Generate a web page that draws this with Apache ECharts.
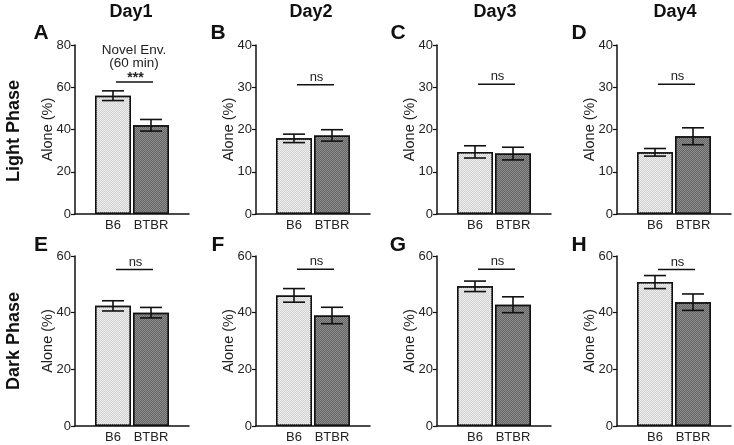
<!DOCTYPE html>
<html>
<head>
<meta charset="utf-8">
<script src="https://cdn.jsdelivr.net/npm/echarts@6/dist/echarts.min.js"></script>
<style>html,body{margin:0;padding:0;background:#fff;}#c{width:734px;height:445px;}</style>
</head>
<body>
<div id="c"></div>
<script>
// ---- data ----
const categories = ['B6', 'BTBR'];
const days = ['Day1', 'Day2', 'Day3', 'Day4'];
const rowTitles = ['Light Phase', 'Dark Phase'];
const panelLetters = ['A', 'B', 'C', 'D', 'E', 'F', 'G', 'H'];
const lightB6 = [56.0, 17.9, 14.7, 14.6];
const lightB6Sem = [2.3, 1.0, 1.45, 0.9];
const lightBTBR = [42.0, 18.6, 14.3, 18.4];
const lightBTBRSem = [2.75, 1.35, 1.5, 2.0];
const darkB6 = [42.4, 46.1, 49.3, 50.8];
const darkB6Sem = [1.8, 2.4, 1.85, 2.3];
const darkBTBR = [40.0, 39.0, 42.8, 43.7];
const darkBTBRSem = [1.85, 2.9, 2.8, 2.9];
const lightSigY = [62.5, 30.6, 30.7, 30.7];
const lightSigText = ['***', 'ns', 'ns', 'ns'];
const darkSigY = [55.2, 55.3, 55.3, 55.2];
const darkSigText = ['ns', 'ns', 'ns', 'ns'];
const lightYMax = [80, 40, 40, 40];
const lightYInterval = [20, 10, 10, 10];
const darkYMax = [60, 60, 60, 60];
const darkYInterval = [20, 20, 20, 20];
const yAxisName = 'Alone (%)';
const noteLines = ['Novel Env.', '(60 min)'];

// ---- layout ----
const FONT = 'Liberation Sans, Arial, sans-serif';
const lefts = [75, 256, 437, 617];
const gridW = 114;
const rows = [{top: 45, height: 169}, {top: 256, height: 170}];
const axisCats = [''].concat(categories, ['']);
const fillB6 = '#ececec';
const decalB6 = '#d2d2d2';
const fillBTBR = '#8c8c8c';
const decalBTBR = '#666666';

const grids = [], xAxes = [], yAxes = [], series = [];

function errRender(params, api) {
  const x = api.value(0), m = api.value(1), s = api.value(2);
  const hi = api.coord([x, m + s]);
  const lo = api.coord([x, m - s]);
  const hw = 11;
  const st = {stroke: '#111', lineWidth: 1.6};
  return {type: 'group', children: [
    {type: 'line', shape: {x1: hi[0], y1: hi[1], x2: lo[0], y2: lo[1]}, style: st},
    {type: 'line', shape: {x1: hi[0] - hw, y1: hi[1], x2: hi[0] + hw, y2: hi[1]}, style: st},
    {type: 'line', shape: {x1: lo[0] - hw, y1: lo[1], x2: lo[0] + hw, y2: lo[1]}, style: st}
  ]};
}

function makeSig(y, label) {
  return function (params, api) {
    const a = api.coord([1, y]);
    const b = api.coord([2, y]);
    const x1 = a[0] + 3, x2 = b[0] + 2;
    const isStar = label.indexOf('*') >= 0;
    return {type: 'group', children: [
      {type: 'line', shape: {x1: x1, y1: a[1], x2: x2, y2: a[1]}, style: {stroke: '#111', lineWidth: 1.5}},
      {type: 'text', style: {text: label, x: (x1 + x2) / 2 + 1, y: a[1] - (isStar ? -3 : 1), align: 'center', verticalAlign: 'bottom',
        font: (isStar ? 'bold 14px ' : '13px ') + FONT, fill: '#222'}}
    ]};
  };
}

function decal(color) {
  return {symbol: 'rect', symbolSize: 1, color: color, dashArrayX: [[1, 1], [0, 1, 1, 0]], dashArrayY: [1, 0], rotation: 0};
}

let idx = 0;
for (let r = 0; r < 2; r++) {
  const b6 = r === 0 ? lightB6 : darkB6;
  const b6s = r === 0 ? lightB6Sem : darkB6Sem;
  const bt = r === 0 ? lightBTBR : darkBTBR;
  const bts = r === 0 ? lightBTBRSem : darkBTBRSem;
  const sy = r === 0 ? lightSigY : darkSigY;
  const st = r === 0 ? lightSigText : darkSigText;
  const ymax = r === 0 ? lightYMax : darkYMax;
  const yint = r === 0 ? lightYInterval : darkYInterval;
  for (let c = 0; c < 4; c++) {
    grids.push({left: lefts[c], width: gridW, top: rows[r].top, height: rows[r].height});
    xAxes.push({
      type: 'category', gridIndex: idx, data: axisCats, boundaryGap: false,
      axisLine: {lineStyle: {color: '#111', width: 1.5}},
      axisTick: {show: false},
      axisLabel: {color: '#222', fontSize: 13, fontFamily: FONT, margin: 5, interval: 0},
      splitLine: {show: false}
    });
    yAxes.push({
      type: 'value', gridIndex: idx, min: 0, max: ymax[c], interval: yint[c],
      name: yAxisName, nameLocation: 'middle', nameGap: 20, nameMoveOverlap: false,
      nameTextStyle: {color: '#222', fontSize: 14.5, fontFamily: FONT},
      axisLine: {show: true, lineStyle: {color: '#111', width: 1.5}},
      axisTick: {show: true, length: 4, lineStyle: {color: '#111', width: 1.2}},
      axisLabel: {color: '#222', fontSize: 13, fontFamily: FONT, margin: 4},
      splitLine: {show: false}
    });
    series.push({
      type: 'bar', xAxisIndex: idx, yAxisIndex: idx, barWidth: 36, z: 2,
      data: [
        '-',
        {value: b6[c], itemStyle: {color: fillB6, decal: decal(decalB6)}},
        {value: bt[c], itemStyle: {color: fillBTBR, decal: decal(decalBTBR)}},
        '-'
      ],
      itemStyle: {borderColor: '#111', borderWidth: 1.5},
      silent: true, animation: false
    });
    series.push({
      type: 'custom', xAxisIndex: idx, yAxisIndex: idx, z: 5,
      renderItem: errRender,
      data: [[1, b6[c], b6s[c]], [2, bt[c], bts[c]]],
      silent: true, animation: false
    });
    series.push({
      type: 'custom', xAxisIndex: idx, yAxisIndex: idx, z: 5,
      renderItem: makeSig(sy[c], st[c]),
      data: [[1, sy[c]]],
      silent: true, animation: false
    });
    idx++;
  }
}

const graphics = [];
const dayX = [131, 311, 495, 675];
days.forEach((d, i) => graphics.push({type: 'text', x: dayX[i], y: 12, style: {text: d, font: 'bold 18px ' + FONT, fill: '#111', align: 'center', verticalAlign: 'middle'}}));
const rowY = [131, 341];
rowTitles.forEach((t, i) => graphics.push({type: 'text', x: 14, y: rowY[i], rotation: Math.PI / 2, style: {text: t, font: 'bold 18px ' + FONT, fill: '#111', align: 'center', verticalAlign: 'middle'}}));
const letterX = [41, 218, 398, 579];
const letterY = [33, 245];
panelLetters.forEach((L, i) => graphics.push({type: 'text', x: letterX[i % 4], y: letterY[Math.floor(i / 4)], style: {text: L, font: 'bold 21px ' + FONT, fill: '#111', align: 'center', verticalAlign: 'middle'}}));
graphics.push({type: 'text', x: 134, y: 50, style: {text: noteLines[0], font: '13.5px ' + FONT, fill: '#222', align: 'center', verticalAlign: 'middle'}});
graphics.push({type: 'text', x: 134, y: 63, style: {text: noteLines[1], font: '13.5px ' + FONT, fill: '#222', align: 'center', verticalAlign: 'middle'}});

const chart = echarts.init(document.getElementById('c'), null, {renderer: 'canvas'});
chart.setOption({
  backgroundColor: '#fff',
  animation: false,
  grid: grids, xAxis: xAxes, yAxis: yAxes, series: series,
  graphic: graphics
});
</script>
</body>
</html>
